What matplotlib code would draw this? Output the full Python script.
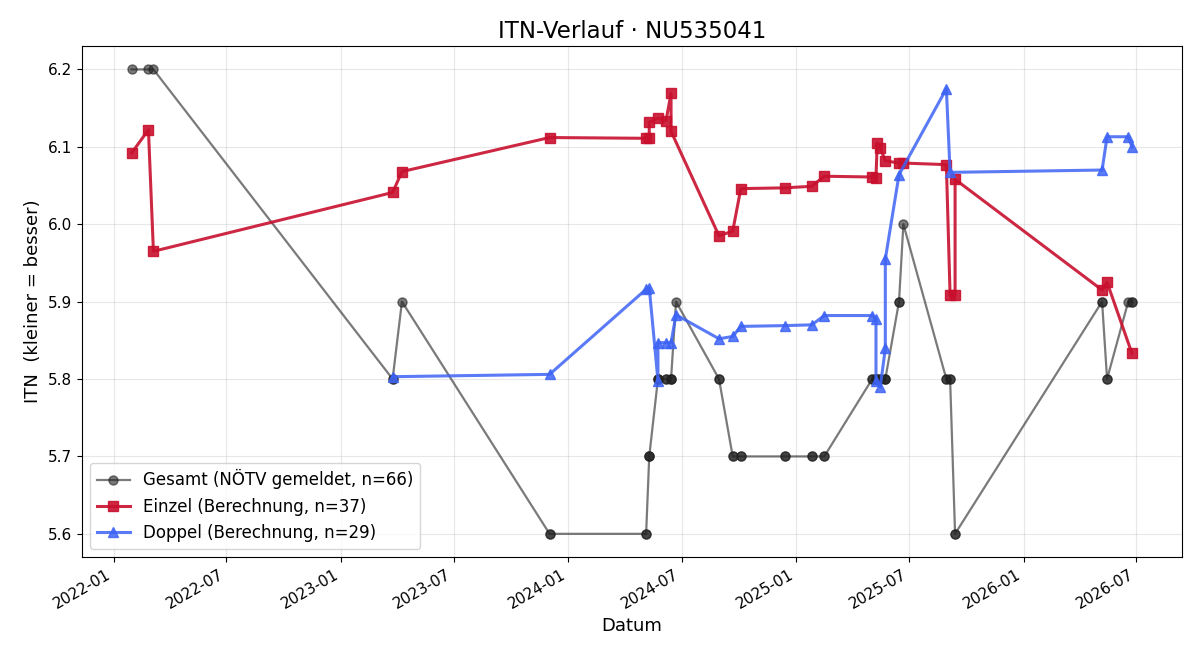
import matplotlib
matplotlib.use("Agg")
import matplotlib.pyplot as plt
import matplotlib.dates as mdates
import pandas as pd

# DATA ------------------------------------------------------
gesamt_dates = ["2022-01-30", "2022-02-26", "2022-03-06",
                "2023-03-25", "2023-03-25", "2023-04-09",
                "2023-12-02", "2023-12-02",
                "2024-05-05", "2024-05-05", "2024-05-10", "2024-05-10", "2024-05-10",
                "2024-05-24", "2024-05-24", "2024-05-24", "2024-06-06", "2024-06-06",
                "2024-06-14", "2024-06-14", "2024-06-14", "2024-06-22",
                "2024-08-30", "2024-08-30", "2024-09-21", "2024-09-21",
                "2024-10-04", "2024-10-04", "2024-12-14", "2024-12-14",
                "2025-01-26", "2025-01-26", "2025-02-15", "2025-02-15",
                "2025-05-03", "2025-05-03", "2025-05-09", "2025-05-09", "2025-05-09",
                "2025-05-11", "2025-05-16", "2025-05-16",
                "2025-05-24", "2025-05-24", "2025-05-24",
                "2025-06-15", "2025-06-15", "2025-06-22",
                "2025-08-30", "2025-08-30", "2025-09-05", "2025-09-05",
                "2025-09-13", "2025-09-13",
                "2026-05-07", "2026-05-07", "2026-05-15", "2026-05-15",
                "2026-06-18", "2026-06-24", "2026-06-24"]
gesamt_vals = [6.2, 6.2, 6.2,
               5.8, 5.8, 5.9,
               5.6, 5.6,
               5.6, 5.6, 5.7, 5.7, 5.7,
               5.8, 5.8, 5.8, 5.8, 5.8,
               5.8, 5.8, 5.8, 5.9,
               5.8, 5.8, 5.7, 5.7,
               5.7, 5.7, 5.7, 5.7,
               5.7, 5.7, 5.7, 5.7,
               5.8, 5.8, 5.8, 5.8, 5.8,
               5.8, 5.8, 5.8,
               5.8, 5.8, 5.8,
               5.9, 5.9, 6.0,
               5.8, 5.8, 5.8, 5.8,
               5.6, 5.6,
               5.9, 5.9, 5.8, 5.8,
               5.9, 5.9, 5.9]

einzel_dates = ["2022-01-30", "2022-02-26", "2022-03-06",
                "2023-03-25", "2023-04-09", "2023-12-02",
                "2024-05-05", "2024-05-10", "2024-05-10", "2024-05-24", "2024-06-06",
                "2024-06-14", "2024-06-14",
                "2024-08-30", "2024-09-21", "2024-10-04", "2024-12-14",
                "2025-01-26", "2025-02-15",
                "2025-05-03", "2025-05-09", "2025-05-11", "2025-05-16", "2025-05-24",
                "2025-06-15", "2025-06-22",
                "2025-08-30", "2025-09-05", "2025-09-13", "2025-09-13",
                "2026-05-07", "2026-05-15", "2026-06-24"]
einzel_vals = [6.092, 6.122, 5.965,
               6.041, 6.068, 6.112,
               6.111, 6.112, 6.132, 6.137, 6.134,
               6.169, 6.120,
               5.985, 5.991, 6.046, 6.047,
               6.049, 6.062,
               6.061, 6.060, 6.105, 6.098, 6.082,
               6.079, 6.079,
               6.077, 5.908, 5.908, 6.058,
               5.915, 5.925, 5.833]

doppel_dates = ["2023-03-25", "2023-12-02",
                "2024-05-05", "2024-05-10", "2024-05-24", "2024-05-24",
                "2024-06-06", "2024-06-14", "2024-06-22",
                "2024-08-30", "2024-09-21", "2024-10-04", "2024-12-14",
                "2025-01-26", "2025-02-15",
                "2025-05-03", "2025-05-09", "2025-05-09", "2025-05-16",
                "2025-05-24", "2025-05-24", "2025-06-15",
                "2025-08-30", "2025-09-05",
                "2026-05-07", "2026-05-15", "2026-06-18", "2026-06-24"]
doppel_vals = [5.803, 5.806,
               5.916, 5.918, 5.798, 5.847,
               5.847, 5.847, 5.883,
               5.852, 5.855, 5.868, 5.869,
               5.870, 5.882,
               5.882, 5.878, 5.797, 5.790,
               5.840, 5.955, 6.064,
               6.175, 6.067,
               6.070, 6.113, 6.113, 6.100]

# Graph -----------------------------------------------------
fig, ax = plt.subplots(figsize=(12, 6.6), dpi=100)

ax.plot(pd.to_datetime(gesamt_dates), gesamt_vals, color="#222222", alpha=0.6,
        marker="o", markersize=6.5, linewidth=1.6,
        label="Gesamt (NÖTV gemeldet, n=66)")
ax.plot(pd.to_datetime(einzel_dates), einzel_vals, color="#c8102e", alpha=0.9,
        marker="s", markersize=7.5, linewidth=2.2,
        label="Einzel (Berechnung, n=37)")
ax.plot(pd.to_datetime(doppel_dates), doppel_vals, color="#3d63f5", alpha=0.85,
        marker="^", markersize=7.5, linewidth=2.2,
        label="Doppel (Berechnung, n=29)")

ax.set_title("ITN-Verlauf · NU535041", fontsize=16.5)
ax.set_xlabel("Datum", fontsize=13)
ax.set_ylabel("ITN  (kleiner = besser)", fontsize=13)
ax.tick_params(labelsize=11)
ax.xaxis.set_major_locator(mdates.MonthLocator(bymonth=[1, 7]))
ax.xaxis.set_major_formatter(mdates.DateFormatter("%Y-%m"))
ax.grid(True, alpha=0.3)
ax.legend(loc="lower left", fontsize=12)
fig.autofmt_xdate()

plt.subplots_adjust(left=0.068, right=0.985, top=0.93, bottom=0.156)
plt.savefig("out.png")
